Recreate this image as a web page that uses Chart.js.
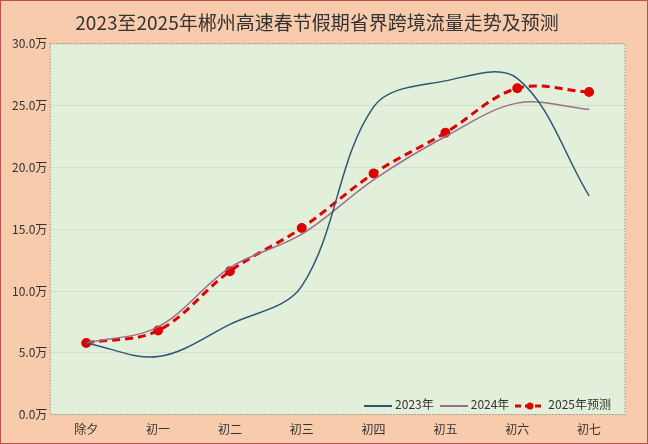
<!DOCTYPE html>
<html><head><meta charset="utf-8">
<script src="https://cdn.jsdelivr.net/npm/chart.js@4"></script>
<style>
html,body{margin:0;padding:0;background:#F8CBAD;}
#wrap{position:relative;width:646px;height:442px;border:1px solid #C0504D;background:#F8CBAD;}
#legend{position:absolute;right:36px;top:394px;font:12px "Noto Sans CJK SC",sans-serif;color:#333;display:flex;gap:6px;align-items:center;}
#legend span.l{display:inline-block;width:28px;height:2px;vertical-align:middle;margin-right:3px;}
</style></head><body>
<div id="wrap"><canvas id="c" width="646" height="442"></canvas>
<div id="legend">
<span><span class="l" style="background:#2E5573"></span>2023年</span>
<span><span class="l" style="background:#9C7088"></span>2024年</span>
<span><svg width="30" height="10" style="vertical-align:middle;margin-right:3px"><line x1="0" y1="5" x2="30" y2="5" stroke="#E00000" stroke-width="3" stroke-dasharray="6,4"/><circle cx="15" cy="5" r="3.5" fill="#E00000"/></svg>2025年预测</span>
</div></div>
<script>
const categories = ["除夕","初一","初二","初三","初四","初五","初六","初七"];
const values2023 = [5.8, 4.7, 7.3, 10.4, 24.9, 27.0, 27.2, 17.7];
const values2024 = [5.8, 7.1, 11.9, 14.6, 19.0, 22.5, 25.2, 24.7];
const values2025 = [5.8, 6.8, 11.6, 15.1, 19.5, 22.8, 26.4, 26.1];
const font = "'Noto Sans CJK SC', sans-serif";

const plotBg = {
  id: "plotBg",
  beforeDraw(chart) {
    const { ctx, chartArea: a } = chart;
    ctx.save();
    ctx.fillStyle = "#E2EFDA";
    ctx.fillRect(a.left, a.top, a.width, a.height);
    ctx.setLineDash([1, 2]);
    ctx.strokeStyle = "#8a7a6a";
    ctx.strokeRect(a.left, a.top, a.width, a.height);
    ctx.restore();
  }
};

new Chart(document.getElementById("c"), {
  type: "line",
  data: {
    labels: categories,
    datasets: [
      { label: "2023年", data: values2023, borderColor: "#2E5573", borderWidth: 1.5, pointRadius: 0, tension: 0.35 },
      { label: "2024年", data: values2024, borderColor: "#9C7088", borderWidth: 1.5, pointRadius: 0, tension: 0.35 },
      { label: "2025年预测", data: values2025, borderColor: "#E00000", backgroundColor: "#E00000", borderWidth: 3, borderDash: [8, 5], pointRadius: 3.5, tension: 0.35 }
    ]
  },
  options: {
    responsive: false,
    animation: false,
    layout: { padding: { left: 8, right: 22, top: 6, bottom: 6 } },
    plugins: {
      legend: { display: false },
      title: { display: true, text: "2023至2025年郴州高速春节假期省界跨境流量走势及预测", color: "#333", font: { family: font, size: 19, weight: "normal" }, padding: { top: 4, bottom: 10 } },
      tooltip: { enabled: false }
    },
    scales: {
      x: {
        offset: true,
        grid: { display: false },
        border: { display: false },
        ticks: { color: "#333", font: { family: font, size: 12 }, padding: 0 }
      },
      y: {
        min: 0, max: 30,
        ticks: { stepSize: 5, color: "#333", font: { family: font, size: 12 }, callback: v => v.toFixed(1) + "万" },
        grid: { color: "rgba(0,0,0,0.06)", drawTicks: false },
        border: { display: false }
      }
    }
  },
  plugins: [plotBg]
});
</script></body></html>
